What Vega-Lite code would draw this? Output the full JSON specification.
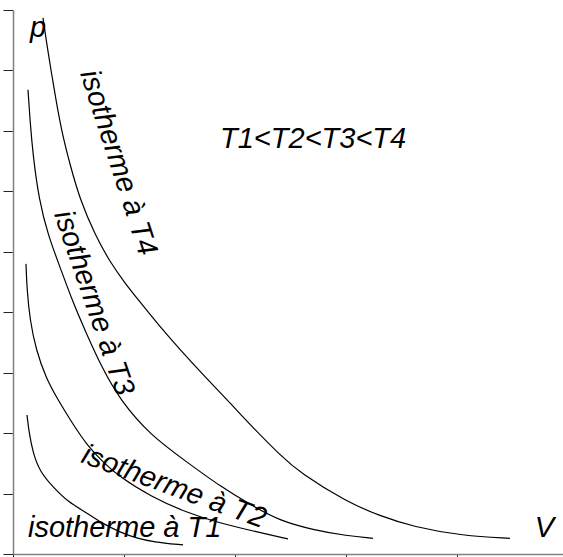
{
  "$schema": "https://vega.github.io/schema/vega-lite/v6.json",
  "width": 550,
  "height": 544,
  "autosize": {"type": "none"},
  "padding": {"left": 13, "top": 10, "right": 0, "bottom": 3},
  "background": "white",
  "config": {"view": {"stroke": null}},
  "datasets": {
    "curves": [
      {"curve": "T1", "V": 0.126, "p": 2.30},
      {"curve": "T1", "V": 0.144, "p": 2.02},
      {"curve": "T1", "V": 0.180, "p": 1.67},
      {"curve": "T1", "V": 0.243, "p": 1.36},
      {"curve": "T1", "V": 0.360, "p": 1.11},
      {"curve": "T1", "V": 0.495, "p": 0.86},
      {"curve": "T1", "V": 0.667, "p": 0.68},
      {"curve": "T1", "V": 0.811, "p": 0.50},
      {"curve": "T1", "V": 0.964, "p": 0.36},
      {"curve": "T1", "V": 1.117, "p": 0.26},
      {"curve": "T1", "V": 1.261, "p": 0.20},
      {"curve": "T1", "V": 1.532, "p": 0.15},
      {"curve": "T2", "V": 0.117, "p": 4.80},
      {"curve": "T2", "V": 0.126, "p": 4.37},
      {"curve": "T2", "V": 0.153, "p": 3.87},
      {"curve": "T2", "V": 0.207, "p": 3.38},
      {"curve": "T2", "V": 0.297, "p": 2.91},
      {"curve": "T2", "V": 0.405, "p": 2.55},
      {"curve": "T2", "V": 0.532, "p": 2.17},
      {"curve": "T2", "V": 0.667, "p": 1.80},
      {"curve": "T2", "V": 0.811, "p": 1.52},
      {"curve": "T2", "V": 0.964, "p": 1.27},
      {"curve": "T2", "V": 1.234, "p": 0.96},
      {"curve": "T2", "V": 1.568, "p": 0.68},
      {"curve": "T2", "V": 1.865, "p": 0.51},
      {"curve": "T2", "V": 2.162, "p": 0.38},
      {"curve": "T2", "V": 2.477, "p": 0.25},
      {"curve": "T3", "V": 0.135, "p": 7.68},
      {"curve": "T3", "V": 0.153, "p": 7.18},
      {"curve": "T3", "V": 0.180, "p": 6.60},
      {"curve": "T3", "V": 0.234, "p": 5.86},
      {"curve": "T3", "V": 0.315, "p": 5.28},
      {"curve": "T3", "V": 0.423, "p": 4.75},
      {"curve": "T3", "V": 0.532, "p": 4.20},
      {"curve": "T3", "V": 0.658, "p": 3.66},
      {"curve": "T3", "V": 0.802, "p": 3.08},
      {"curve": "T3", "V": 0.964, "p": 2.55},
      {"curve": "T3", "V": 1.234, "p": 1.97},
      {"curve": "T3", "V": 1.568, "p": 1.52},
      {"curve": "T3", "V": 1.865, "p": 1.12},
      {"curve": "T3", "V": 2.162, "p": 0.79},
      {"curve": "T3", "V": 2.405, "p": 0.55},
      {"curve": "T3", "V": 2.703, "p": 0.40},
      {"curve": "T3", "V": 3.009, "p": 0.30},
      {"curve": "T3", "V": 3.243, "p": 0.26},
      {"curve": "T4", "V": 0.270, "p": 8.87},
      {"curve": "T4", "V": 0.306, "p": 8.42},
      {"curve": "T4", "V": 0.342, "p": 8.01},
      {"curve": "T4", "V": 0.387, "p": 7.51},
      {"curve": "T4", "V": 0.441, "p": 6.97},
      {"curve": "T4", "V": 0.514, "p": 6.44},
      {"curve": "T4", "V": 0.604, "p": 5.86},
      {"curve": "T4", "V": 0.739, "p": 5.28},
      {"curve": "T4", "V": 0.874, "p": 4.83},
      {"curve": "T4", "V": 1.009, "p": 4.48},
      {"curve": "T4", "V": 1.144, "p": 4.17},
      {"curve": "T4", "V": 1.324, "p": 3.76},
      {"curve": "T4", "V": 1.505, "p": 3.38},
      {"curve": "T4", "V": 1.730, "p": 2.93},
      {"curve": "T4", "V": 1.955, "p": 2.50},
      {"curve": "T4", "V": 2.162, "p": 2.09},
      {"curve": "T4", "V": 2.405, "p": 1.64},
      {"curve": "T4", "V": 2.586, "p": 1.34},
      {"curve": "T4", "V": 3.009, "p": 0.86},
      {"curve": "T4", "V": 3.306, "p": 0.63},
      {"curve": "T4", "V": 3.604, "p": 0.45},
      {"curve": "T4", "V": 4.054, "p": 0.30},
      {"curve": "T4", "V": 4.477, "p": 0.26}
    ],
    "labels": [
      {"id": "p", "text": "p", "V": 0.153, "p": 8.55},
      {"id": "V", "text": "V", "V": 4.700, "p": 0.28},
      {"id": "order", "text": "T1<T2<T3<T4", "V": 1.865, "p": 6.72},
      {"id": "L1", "text": "isotherme à T1", "V": 0.135, "p": 0.281},
      {"id": "L2", "text": "isotherme à T2", "V": 0.604, "p": 1.52},
      {"id": "L3", "text": "isotherme à T3", "V": 0.369, "p": 5.62},
      {"id": "L4", "text": "isotherme à T4", "V": 0.604, "p": 7.95}
    ]
  },
  "layer": [
    {
      "data": {"name": "curves"},
      "mark": {"type": "line", "interpolate": "basis", "color": "black", "strokeWidth": 1.2},
      "encoding": {
        "x": {
          "field": "V", "type": "quantitative",
          "scale": {"domain": [0, 4.955], "nice": false, "zero": false},
          "axis": {"title": null, "labels": false, "grid": false, "values": [0, 1, 2, 3, 4], "tickSize": 6, "tickColor": "#222", "domainColor": "#808080", "domainWidth": 1.5}
        },
        "y": {
          "field": "p", "type": "quantitative",
          "scale": {"domain": [0, 9], "nice": false, "zero": false},
          "axis": {"title": null, "labels": false, "grid": false, "values": [0, 1, 2, 3, 4, 5, 6, 7, 8, 9], "tickSize": 10, "tickColor": "#222", "domainColor": "#808080", "domainWidth": 1.5}
        },
        "detail": {"field": "curve"}
      }
    },
    {
      "data": {"name": "labels"},
      "transform": [{"filter": "datum.id == 'p' || datum.id == 'V' || datum.id == 'order' || datum.id == 'L1'"}],
      "mark": {"type": "text", "font": "Liberation Sans", "fontStyle": "italic", "fontSize": 29, "align": "left", "baseline": "alphabetic", "color": "black"},
      "encoding": {
        "x": {"field": "V", "type": "quantitative"},
        "y": {"field": "p", "type": "quantitative"},
        "text": {"field": "text"}
      }
    },
    {
      "data": {"name": "labels"},
      "transform": [{"filter": "datum.id == 'L2'"}],
      "mark": {"type": "text", "font": "Liberation Sans", "fontStyle": "italic", "fontSize": 29, "align": "left", "baseline": "alphabetic", "angle": 20, "color": "black"},
      "encoding": {
        "x": {"field": "V", "type": "quantitative"},
        "y": {"field": "p", "type": "quantitative"},
        "text": {"field": "text"}
      }
    },
    {
      "data": {"name": "labels"},
      "transform": [{"filter": "datum.id == 'L3'"}],
      "mark": {"type": "text", "font": "Liberation Sans", "fontStyle": "italic", "fontSize": 29, "align": "left", "baseline": "alphabetic", "angle": 71, "color": "black"},
      "encoding": {
        "x": {"field": "V", "type": "quantitative"},
        "y": {"field": "p", "type": "quantitative"},
        "text": {"field": "text"}
      }
    },
    {
      "data": {"name": "labels"},
      "transform": [{"filter": "datum.id == 'L4'"}],
      "mark": {"type": "text", "font": "Liberation Sans", "fontStyle": "italic", "fontSize": 29, "align": "left", "baseline": "alphabetic", "angle": 72, "color": "black"},
      "encoding": {
        "x": {"field": "V", "type": "quantitative"},
        "y": {"field": "p", "type": "quantitative"},
        "text": {"field": "text"}
      }
    }
  ]
}
